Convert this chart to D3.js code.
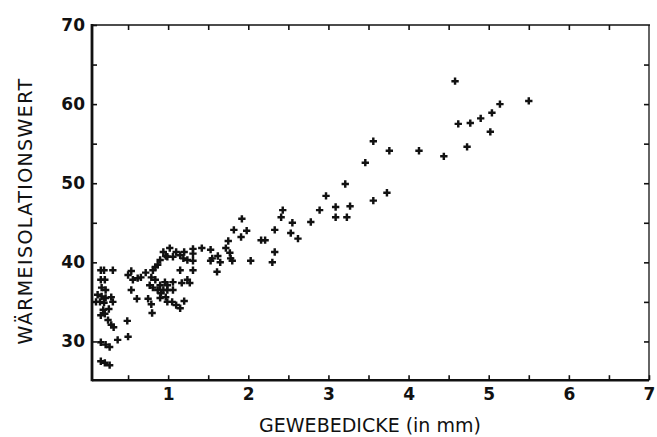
<!DOCTYPE html>
<html>
<head>
<meta charset="utf-8">
<script src="https://cdn.jsdelivr.net/npm/d3@7"></script>
<style>
  html, body { margin: 0; padding: 0; background: #fff; }
  svg { display: block; }
  .tick text { font-family: "DejaVu Sans", sans-serif; font-weight: bold; font-size: 17px; fill: #111; }
  .title { font-family: "DejaVu Sans", sans-serif; font-size: 19px; fill: #111; }
</style>
</head>
<body>
<svg id="chart" width="657" height="437"></svg>
<script>
// Gewebedicke (mm) and Wärmeisolationswert of each sample
const thickness = [
  0.16, 0.20, 0.31, 0.16, 0.21, 0.17, 0.22, 0.12, 0.17, 0.22,
  0.29, 0.10, 0.15, 0.20, 0.31, 0.19, 0.26, 0.16, 0.21, 0.25,
  0.29, 0.32, 0.16, 0.22, 0.27, 0.37, 0.50, 0.16, 0.21, 0.27,
  0.49, 0.54, 0.50, 0.56, 0.54, 0.62, 0.66, 0.72, 0.79, 0.84,
  0.61, 0.75, 0.79, 0.80, 0.77, 0.81, 0.87, 0.94, 0.90, 0.96,
  0.91, 0.97, 0.87, 0.90, 0.84, 0.81, 0.94, 0.97, 1.02, 1.10,
  1.15, 1.20, 1.19, 1.24, 1.06, 0.99, 1.31, 1.31, 1.31, 1.31,
  1.15, 1.42, 1.53, 1.55, 1.53, 1.62, 1.65, 1.61, 1.72, 1.77,
  1.78, 1.75, 1.06, 0.99, 1.17, 1.24, 1.27, 0.99, 1.06, 0.90,
  0.99, 1.05, 1.10, 1.15, 1.20, 1.82, 1.92, 1.98, 1.91, 2.33,
  2.43, 2.41, 2.55, 2.53, 2.62, 2.16, 2.21, 2.33, 2.30, 2.03,
  1.80, 2.78, 2.89, 3.09, 3.09, 2.97, 3.23, 3.27, 3.21, 3.56,
  3.73, 3.46, 3.56, 3.76, 4.13, 4.44, 4.58, 4.62, 4.73, 4.77,
  4.90, 5.02, 5.04, 5.14, 5.50
];
const insulation = [
  39.0, 39.0, 39.0, 37.8, 37.8, 36.8, 36.5, 35.9, 35.7, 35.5,
  35.6, 35.0, 35.0, 34.9, 35.0, 34.0, 34.1, 33.3, 33.5, 32.7,
  32.1, 31.8, 29.9, 29.6, 29.3, 30.2, 30.6, 27.5, 27.3, 27.0,
  32.6, 38.9, 38.4, 37.8, 36.5, 38.0, 38.1, 38.7, 38.1, 37.8,
  35.4, 35.4, 34.7, 33.6, 37.1, 36.8, 36.5, 36.5, 37.1, 37.5,
  36.1, 35.6, 39.7, 40.3, 39.4, 39.0, 41.3, 40.8, 41.8, 41.3,
  40.9, 41.3, 40.5, 40.3, 40.7, 40.7, 41.7, 41.1, 40.2, 39.0,
  39.0, 41.8, 41.6, 40.5, 40.2, 40.8, 40.0, 38.8, 41.8, 41.2,
  40.5, 42.7, 37.5, 37.1, 37.4, 37.8, 37.4, 36.5, 36.5, 35.5,
  35.0, 35.0, 34.6, 34.2, 35.1, 44.1, 45.5, 44.0, 43.2, 44.1,
  46.6, 45.7, 45.0, 43.7, 43.0, 42.8, 42.8, 41.3, 40.0, 40.2,
  40.2, 45.1, 46.6, 47.0, 45.7, 48.4, 45.7, 47.1, 49.9, 47.8,
  48.8, 52.6, 55.3, 54.1, 54.1, 53.4, 62.9, 57.5, 54.6, 57.6,
  58.2, 56.5, 58.9, 60.0, 60.4
];

const xTickLabels = [1, 2, 3, 4, 5, 6, 7];
const yTickLabels = [30, 40, 50, 60, 70];
const xTitle = "GEWEBEDICKE (in mm)";
const yTitle = "WÄRMEISOLATIONSWERT";

const svg = d3.select("#chart");

const x = d3.scaleLinear().domain([0, 7]).range([88, 649]);
const y = d3.scaleLinear().domain([25, 70]).range([381, 25]);

const frameLeft = x(0.05), frameRight = x(7), frameTop = y(70), frameBottom = y(25.1);

// frame ticks: every 0.5 mm along x, every 5 units along y
const xMinor = d3.range(0.5, 7.001, 0.5);
const yMinor = d3.range(30, 70.001, 5);

const xAxis = svg.append("g")
  .attr("transform", `translate(0,${frameBottom})`)
  .call(d3.axisBottom(x).tickValues(xMinor).tickSizeInner(-5).tickSizeOuter(0).tickPadding(8)
    .tickFormat(d => xTickLabels.includes(d) ? String(d) : ""));

const yAxis = svg.append("g")
  .attr("transform", `translate(${frameLeft},0)`)
  .call(d3.axisLeft(y).tickValues(yMinor).tickSizeInner(-5).tickSizeOuter(0).tickPadding(7)
    .tickFormat(d => yTickLabels.includes(d) ? String(d) : ""));

const topAxis = svg.append("g")
  .attr("transform", `translate(0,${frameTop})`)
  .call(d3.axisTop(x).tickValues(xMinor.filter(d => d < 7)).tickSizeInner(-5).tickSizeOuter(0).tickFormat(""));

const rightAxis = svg.append("g")
  .attr("transform", `translate(${frameRight},0)`)
  .call(d3.axisRight(y).tickValues(yMinor.filter(d => d < 70)).tickSizeInner(-5).tickSizeOuter(0).tickFormat(""));

[xAxis, yAxis, topAxis, rightAxis].forEach(g => {
  g.select(".domain").remove();
  g.selectAll(".tick line").attr("stroke", "#111").attr("stroke-width", 1.6);
});

// frame lines
svg.append("line").attr("x1", frameLeft).attr("x2", frameLeft).attr("y1", frameTop - 1).attr("y2", frameBottom + 1)
  .attr("stroke", "#111").attr("stroke-width", 2.8);
svg.append("line").attr("x1", frameLeft).attr("x2", frameRight).attr("y1", frameBottom).attr("y2", frameBottom)
  .attr("stroke", "#111").attr("stroke-width", 2.4);
svg.append("line").attr("x1", frameLeft).attr("x2", frameRight + 1).attr("y1", frameTop).attr("y2", frameTop)
  .attr("stroke", "#111").attr("stroke-width", 1.6);
svg.append("line").attr("x1", frameRight).attr("x2", frameRight).attr("y1", frameTop).attr("y2", frameBottom)
  .attr("stroke", "#111").attr("stroke-width", 1.3);

// crosshair markers
const cross = d3.symbol().type(d3.symbolCross).size(30);
svg.append("g").selectAll("path")
  .data(thickness.map((t, i) => [t, insulation[i]]))
  .join("path")
  .attr("transform", d => `translate(${x(d[0])},${y(d[1])})`)
  .attr("d", cross)
  .attr("fill", "#111");

// axis titles
svg.append("text").attr("class", "title")
  .attr("x", 370).attr("y", 432).attr("text-anchor", "middle")
  .text(xTitle);

svg.append("text").attr("class", "title")
  .attr("transform", `translate(32,211) rotate(-90)`)
  .attr("text-anchor", "middle")
  .style("letter-spacing", "1.4px")
  .text(yTitle);
</script>
</body>
</html>
